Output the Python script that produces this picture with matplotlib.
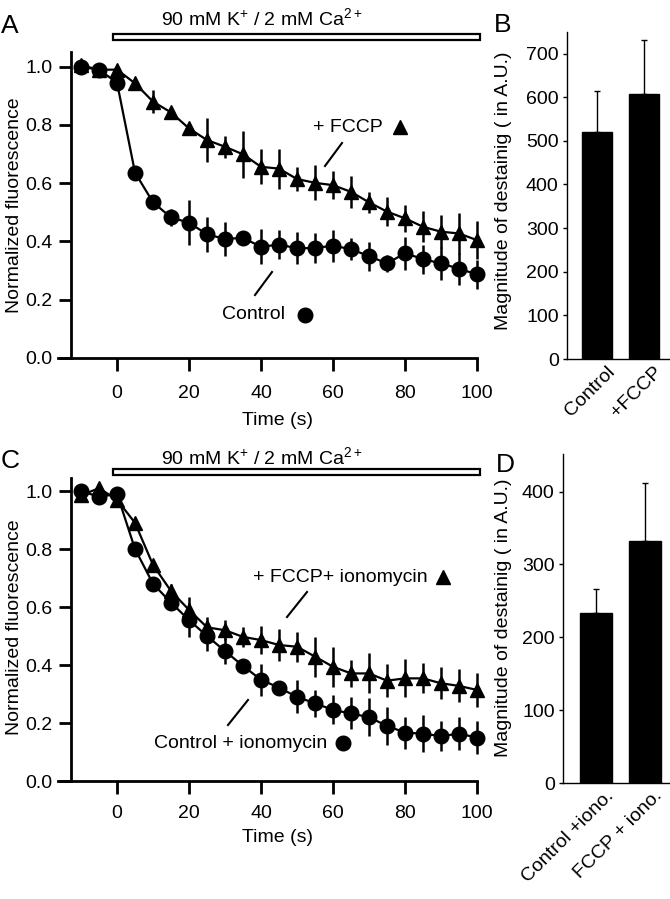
import numpy as np
import matplotlib
matplotlib.use("Agg")
import matplotlib.pyplot as plt
from matplotlib.lines import Line2D
from matplotlib.patches import Rectangle
from matplotlib.transforms import ScaledTranslation

plt.rcParams['font.family'] = ['Liberation Sans', 'DejaVu Sans']
plt.rcParams['mathtext.fontset'] = 'custom'
plt.rcParams['mathtext.rm'] = 'Liberation Sans'
plt.rcParams['mathtext.it'] = 'Liberation Sans'

# ---------------- data ----------------
time = [-10, -5, 0, 5, 10, 15, 20, 25, 30, 35, 40, 45, 50, 55, 60, 65, 70, 75, 80, 85, 90, 95, 100]

ctrl_a = [1.00, 0.99, 0.945, 0.636, 0.534, 0.482, 0.464, 0.424, 0.408, 0.412, 0.381, 0.389,
          0.376, 0.377, 0.385, 0.373, 0.349, 0.324, 0.359, 0.339, 0.324, 0.306, 0.286]
ctrl_a_err = [0.0, 0.0, 0.01, 0.0, 0.0, 0.03, 0.077, 0.06, 0.06, 0.023, 0.06, 0.05,
              0.055, 0.05, 0.055, 0.037, 0.05, 0.03, 0.057, 0.05, 0.057, 0.055, 0.05]
fccp_a = [1.005, 0.99, 0.99, 0.943, 0.88, 0.843, 0.788, 0.748, 0.725, 0.699, 0.656, 0.65,
          0.614, 0.601, 0.593, 0.57, 0.534, 0.502, 0.479, 0.45, 0.433, 0.427, 0.404]
fccp_a_err = [0.0, 0.0, 0.0, 0.0, 0.04, 0.0, 0.01, 0.077, 0.037, 0.08, 0.06, 0.069,
              0.04, 0.06, 0.048, 0.054, 0.037, 0.05, 0.046, 0.054, 0.057, 0.069, 0.065]

ctrl_c = [1.00, 0.98, 0.99, 0.80, 0.68, 0.615, 0.555, 0.50, 0.448, 0.397, 0.349, 0.322,
          0.29, 0.268, 0.245, 0.233, 0.22, 0.19, 0.167, 0.163, 0.155, 0.163, 0.15]
ctrl_c_err = [0.0, 0.0, 0.0, 0.0, 0.0, 0.02, 0.06, 0.05, 0.044, 0.01, 0.055, 0.02,
              0.057, 0.046, 0.05, 0.055, 0.066, 0.066, 0.055, 0.063, 0.052, 0.057, 0.057]
fccp_c = [0.985, 1.01, 0.97, 0.89, 0.745, 0.655, 0.59, 0.53, 0.52, 0.497, 0.486, 0.469,
          0.463, 0.429, 0.394, 0.371, 0.371, 0.346, 0.354, 0.354, 0.337, 0.328, 0.314]
fccp_c_err = [0.0, 0.0, 0.0, 0.0, 0.0, 0.025, 0.046, 0.035, 0.035, 0.035, 0.048, 0.055,
              0.052, 0.069, 0.069, 0.046, 0.069, 0.057, 0.066, 0.052, 0.055, 0.057, 0.06]

bar_b_labels = ['Control', '+FCCP']
bar_b_values = [520, 607]
bar_b_err = [95, 125]

bar_d_labels = ['Control +iono.', 'FCCP + iono.']
bar_d_values = [233, 332]
bar_d_err = [33, 80]

time_ticks = [0, 20, 40, 60, 80, 100]
fl_ticks = [0.0, 0.2, 0.4, 0.6, 0.8, 1.0]

# ---------------- figure ----------------
W, H = 670, 899
fig = plt.figure(figsize=(W / 100, H / 100), dpi=100)


def px_axes(l, t, r, b):
    return fig.add_axes([l / W, 1 - b / H, (r - l) / W, (b - t) / H])


def fx(x):
    return x / W


def fy(y):
    return 1 - y / H


FS = 14
LW_AX = 2.0


def time_panel(ax, ctrl, ctrl_err, fccp, fccp_err, ytop, xpad):
    ax.set_xlim(-16.4, 100)
    ax.set_ylim(0, ytop)
    for s in ['top', 'right']:
        ax.spines[s].set_visible(False)
    ax.spines['left'].set_position(('data', -12.8))
    for s in ['left', 'bottom']:
        ax.spines[s].set_linewidth(LW_AX)
    ax.set_xticks(time_ticks)
    ax.set_yticks(fl_ticks)
    ax.set_yticklabels([f'{v:.1f}' for v in fl_ticks])
    ax.tick_params(axis='both', direction='out', length=9, width=LW_AX, labelsize=FS)
    ax.tick_params(axis='x', pad=xpad)
    ax.tick_params(axis='y', pad=4.5)
    ax.errorbar(time, fccp, yerr=fccp_err, fmt='none', ecolor='black', elinewidth=1.8,
                capsize=0, clip_on=False)
    ax.errorbar(time, ctrl, yerr=ctrl_err, fmt='none', ecolor='black', elinewidth=1.8,
                capsize=0, clip_on=False)
    ax.plot(time, fccp, color='black', lw=1.6, marker='^', ms=10.5, clip_on=False)
    ax.plot(time, ctrl, color='black', lw=1.6, marker='o', ms=10.5, clip_on=False)
    ax.patch.set_alpha(0)


def bar_panel(ax, labels, values, err, ylim, yticks, xl):
    x = np.arange(len(values))
    ax.bar(x, values, width=0.65, color='black', edgecolor='black')
    ax.errorbar(x, values, yerr=[np.zeros(len(err)), err], fmt='none', ecolor='black',
                elinewidth=1.0, capsize=2.5, capthick=1.0)
    ax.set_xlim(xl, xl + 103 / 47)
    ax.set_ylim(*ylim)
    ax.set_yticks(yticks)
    for s in ['top', 'right']:
        ax.spines[s].set_visible(False)
    for s in ['left', 'bottom']:
        ax.spines[s].set_linewidth(1.0)
    ax.set_xticks(x)
    ax.set_xticklabels(labels, rotation=45, ha='right', rotation_mode='anchor')
    ax.tick_params(axis='x', length=0, labelsize=FS, pad=3)
    ax.tick_params(axis='y', direction='out', length=3, width=1.0, labelsize=FS, pad=3)
    off = ScaledTranslation(9 / 100, 0, fig.dpi_scale_trans)
    for lab in ax.get_xticklabels():
        lab.set_transform(lab.get_transform() + off)
    ax.patch.set_alpha(0)


# Panel A
axA = px_axes(58, 52.2, 477, 357.7)
time_panel(axA, ctrl_a, ctrl_a_err, fccp_a, fccp_a_err, 1.05, 11)
# Panel C
axC = px_axes(58, 478, 477, 781)
time_panel(axC, ctrl_c, ctrl_c_err, fccp_c, fccp_c_err, 1.045, 8)
# Panel B
axB = px_axes(567, 31.7, 670, 359)
bar_panel(axB, bar_b_labels, bar_b_values, bar_b_err, (0, 750), [0, 100, 200, 300, 400, 500, 600, 700], -0.64)
# Panel D
axD = px_axes(563, 454.3, 670, 783.3)
bar_panel(axD, bar_d_labels, bar_d_values, bar_d_err, (0, 451), [0, 100, 200, 300, 400], -0.68)

# axis labels
for yc in [205, 627]:
    fig.text(fx(15), fy(yc), 'Normalized fluorescence', rotation=90, ha='center', va='center', fontsize=FS)
fig.text(fx(277), fy(420), 'Time (s)', ha='center', va='center', fontsize=FS)
fig.text(fx(277), fy(838), 'Time (s)', ha='center', va='center', fontsize=FS)
fig.text(fx(503), fy(191), 'Magnitude of destainig ( in A.U.)', rotation=90, ha='center', va='center', fontsize=FS)
fig.text(fx(503), fy(618), 'Magnitude of destainig ( in A.U.)', rotation=90, ha='center', va='center', fontsize=FS)

# panel letters
fig.text(fx(1), fy(26), 'A', ha='left', va='center', fontsize=19)
fig.text(fx(1), fy(461), 'C', ha='left', va='center', fontsize=19)
fig.text(fx(494), fy(25), 'B', ha='left', va='center', fontsize=19)
fig.text(fx(496), fy(465), 'D', ha='left', va='center', fontsize=19)

# stimulus bars
stim = r'90 mM K$^{+}$ / 2 mM Ca$^{2+}$'
for ty, by in [(18, 37), (457, 472)]:
    fig.text(fx(262), fy(ty), stim, ha='center', va='center', fontsize=FS)
    fig.add_artist(Rectangle((fx(113), fy(by + 3)), fx(480) - fx(113), fy(by - 3) - fy(by + 3),
                             transform=fig.transFigure, facecolor='white', edgecolor='black', lw=1.6))


# annotations
def note(text, tx, ty, mk, mx, line):
    fig.text(fx(tx), fy(ty), text, ha='center', va='center', fontsize=FS)
    fig.add_artist(Line2D([fx(mx)], [fy(ty)], marker=mk, ms=10.5, color='black', ls='none',
                          transform=fig.transFigure))
    (x0, y0), (x1, y1) = line
    fig.add_artist(Line2D([fx(x0), fx(x1)], [fy(y0), fy(y1)], color='black', lw=1.5,
                          transform=fig.transFigure))


note('+ FCCP', 348, 127, '^', 400, ((325, 166), (342, 143)))
note('Control', 254, 315, 'o', 305, ((255, 295), (272, 272)))
note('+ FCCP+ ionomycin', 340, 577, '^', 443, ((287, 617), (307, 592)))
note('Control + ionomycin', 241, 743, 'o', 343, ((228, 725), (248, 700)))

fig.savefig('out.png', dpi=100)
